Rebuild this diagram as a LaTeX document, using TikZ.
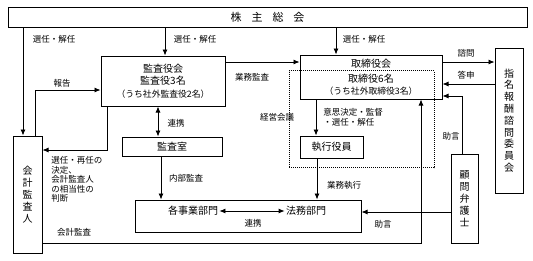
\documentclass[tikz,border=0pt]{standalone}
\usepackage{fontspec}
\setmainfont{Noto Sans CJK JP}
\usetikzlibrary{arrows.meta}

\tikzset{
  box/.style={draw, line width=1pt, inner sep=0pt, align=center, font=\fontsize{10}{12.5}\selectfont},
  tate/.style={box, font=\fontsize{10}{12}\selectfont},
  lbl/.style={inner sep=0pt, font=\fontsize{8.5}{9.5}\selectfont},
  txt/.style={inner sep=0pt, font=\fontsize{10}{12}\selectfont},
}

\begin{document}
\begin{tikzpicture}[x=1pt, y=-1pt, >={Latex[length=6pt,width=5pt]}, line width=0.8pt]
    \useasboundingbox (0,0) rectangle (533,260);
    \node[box, minimum width=519pt, minimum height=20pt, font=\fontsize{11}{13}\selectfont] (kabu) at (267.5,17) {株\hspace{10pt}主\hspace{10pt}総\hspace{10pt}会};
    \node[box, minimum width=124pt, minimum height=50pt] (kansa) at (163,81) {監査役会\\監査役3名\\{\fontsize{8.8}{10}\selectfont （うち社外監査役2名）}};
    \node[box, minimum width=142pt, minimum height=44pt] (tori) at (371,77) {};
    \node[txt] (tori1) at (371,63.5) {取締役会};
    \node[txt] (tori2) at (371,79) {取締役6名};
    \node[txt, font=\fontsize{8.8}{10}\selectfont] (tori3) at (371,91) {（うち社外取締役3名）};
    \node[draw, line width=0.9pt, dash pattern=on 1pt off 1pt, minimum width=145pt, minimum height=97pt, inner sep=0pt] (keiei) at (361.5,119) {};
    \node[box, minimum width=63pt, minimum height=22pt] (shikko) at (331.5,147) {執行役員};
    \node[box, minimum width=100pt, minimum height=19pt] (kansashitsu) at (172,146.5) {監査室};
    \node[box, minimum width=226pt, minimum height=32pt] (jigyo) at (248,216) {};
    \node[txt, inner sep=1pt] (busho) at (193,211) {各事業部門};
    \node[txt, inner sep=1pt] (homu) at (306,211) {法務部門};
    \node[tate, minimum width=29pt, minimum height=117pt] (kaikei) at (27.5,194.5) {会\\計\\監\\査\\人};
    \node[tate, minimum width=28pt, minimum height=145pt, font=\fontsize{10}{11.8}\selectfont] (shimei) at (509,120.5) {指\\名\\報\\酬\\諮\\問\\委\\員\\会};
    \node[tate, minimum width=27pt, minimum height=89pt] (komon) at (464.5,198.5) {顧\\問\\弁\\護\\士};
    % labels
    \node[lbl] (l1) at (54,39) {選任・解任};
    \node[lbl] (l2) at (195,39) {選任・解任};
    \node[lbl] (l3) at (364,39) {選任・解任};
    \node[lbl] (l4) at (252,77) {業務監査};
    \node[lbl] (l5) at (62,83) {報告};
    \node[lbl] (l6) at (176,123) {連携};
    \node[lbl] (l7) at (277,117) {経営会議};
    \node[lbl, anchor=north west, align=left] (l8) at (323,108) {意思決定・監督\\・選任・解任};
    \node[lbl, anchor=north west, align=left] (l9) at (51,156) {選任・再任の\\決定、\\会計監査人\\の相当性の\\判断};
    \node[lbl] (l10) at (186,178) {内部監査};
    \node[lbl] (l11) at (344,185) {業務執行};
    \node[lbl] (l12) at (253,223) {連携};
    \node[lbl] (l13) at (383,224) {助言};
    \node[lbl] (l14) at (451,136) {助言};
    \node[lbl] (l15) at (466,53) {諮問};
    \node[lbl] (l16) at (466,75) {答申};
    \node[lbl] (l17) at (74,232) {会計監査};
    % connectors
    \draw[->] (kabu.south -| 23,0) -- (kaikei.north -| 23,0);
    \draw[->] (kabu.south -| 165,0) -- (kansa.north -| 165,0);
    \draw[->] (kabu.south -| 336,0) -- (tori.north -| 336,0);
    \draw[->] (kansa.east |- 0,62) -- (tori.west |- 0,62);
    \draw[->] (kaikei.north -| 35,0) |- (kansa.west |- 0,90);
    \draw[->] (kansa.south -| 107,0) |- (kaikei.east |- 0,150);
    \draw[<->] (kansa.south -| 158,0) -- (kansashitsu.north -| 158,0);
    \draw[->] (kansashitsu.south -| 161,0) -- (jigyo.north -| 161,0);
    \draw[->] (tori.south -| 316,0) -- (shikko.north -| 316,0);
    \draw[->] (shikko.south -| 317,0) -- (jigyo.north -| 317,0);
    \draw[<->] (busho) -- (homu);
    \draw[->] (kaikei.east |- 0,243) -| (tori.south -| 421,0);
    \draw[->] (tori.east |- 0,62) -- (shimei.west |- 0,62);
    \draw[->] (shimei.west |- 0,84) -- (tori.east |- 0,84);
    \draw[->] (komon.north -| 462,0) |- (tori.east |- 0,96);
    \draw[->] (komon.west |- 0,212) -- (jigyo.east |- 0,212);
\end{tikzpicture}
\end{document}
